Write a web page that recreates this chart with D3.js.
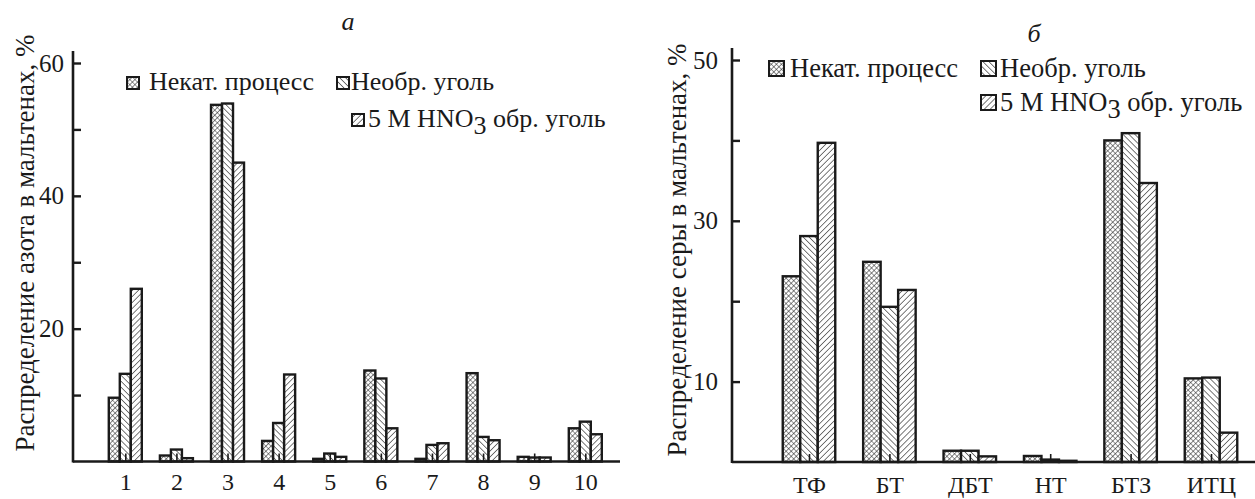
<!DOCTYPE html>
<html>
<head>
<meta charset="utf-8">
<script src="https://cdn.jsdelivr.net/npm/d3@7"></script>
<style>
  body { margin: 0; background: #fff; }
  svg, svg text { font-family: "Liberation Serif", "Times New Roman", Times, serif !important; }
</style>
</head>
<body>
<div class="chart"></div>
<script>
// panel a: nitrogen distribution in maltenes, %
const nitroCats = ['1', '2', '3', '4', '5', '6', '7', '8', '9', '10'];
const nitroUncat = [9.6, 0.9, 53.7, 3.1, 0.4, 13.7, 0.4, 13.3, 0.7, 5.0];
const nitroRaw = [13.2, 1.8, 53.9, 5.8, 1.2, 12.5, 2.5, 3.7, 0.6, 6.0];
const nitroHno3 = [26.0, 0.5, 45.0, 13.1, 0.7, 5.0, 2.75, 3.2, 0.6, 4.1];
const nitroTicks = [10, 20, 30, 40, 50, 60];
const nitroLabelled = [20, 40, 60];

// panel b: sulfur distribution in maltenes, %
const sulfCats = ['ТФ', 'БТ', 'ДБТ', 'НТ', 'БТЗ', 'ИТЦ'];
const sulfUncat = [23.1, 24.9, 1.4, 0.75, 40.0, 10.4];
const sulfRaw = [28.1, 19.3, 1.4, 0.3, 40.9, 10.5];
const sulfHno3 = [39.7, 21.4, 0.7, 0.15, 34.7, 3.65];
const sulfTicks = [10, 20, 30, 40, 50];
const sulfLabelled = [10, 30, 50];

const seriesKeys = ['uncat', 'raw', 'hno3'];
const seriesNames = ['Некат. процесс', 'Необр. уголь', '5 M HNO'];

const width = 1255;
const height = 499;
const serif = '"Liberation Serif", "Times New Roman", Times, serif';

const svg = d3.select('.chart')
  .append('svg')
  .attr('width', width)
  .attr('height', height)
  .attr('font-family', serif);

svg.append('rect').attr('width', width).attr('height', height).attr('fill', '#fff');

// hatch patterns
const defs = svg.append('defs');

const cross = defs.append('pattern')
  .attr('id', 'pat-uncat')
  .attr('patternUnits', 'userSpaceOnUse')
  .attr('width', 3.6).attr('height', 3.6)
  .attr('patternTransform', 'rotate(45)');
cross.append('rect').attr('width', 3.6).attr('height', 3.6).attr('fill', '#fff');
cross.append('path').attr('d', 'M0,0H3.6M0,0V3.6').attr('stroke', '#222').attr('stroke-width', 1.1);

const back = defs.append('pattern')
  .attr('id', 'pat-raw')
  .attr('patternUnits', 'userSpaceOnUse')
  .attr('width', 4.2).attr('height', 4.2)
  .attr('patternTransform', 'rotate(-45)');
back.append('rect').attr('width', 4.2).attr('height', 4.2).attr('fill', '#fff');
back.append('path').attr('d', 'M0,0V4.2').attr('stroke', '#222').attr('stroke-width', 1.2);

const fwd = defs.append('pattern')
  .attr('id', 'pat-hno3')
  .attr('patternUnits', 'userSpaceOnUse')
  .attr('width', 4.2).attr('height', 4.2)
  .attr('patternTransform', 'rotate(45)');
fwd.append('rect').attr('width', 4.2).attr('height', 4.2).attr('fill', '#fff');
fwd.append('path').attr('d', 'M0,0V4.2').attr('stroke', '#222').attr('stroke-width', 1.2);

const drawPanel = (opts) => {
  const g = svg.append('g');

  const x = d3.scalePoint()
    .domain(opts.cats)
    .range(opts.xRange);

  const sub = d3.scaleBand()
    .domain(seriesKeys)
    .range([-opts.groupWidth / 2, opts.groupWidth / 2]);

  const y = d3.scaleLinear()
    .domain([0, opts.yMax])
    .range(opts.yRange);

  const rows = opts.cats.map((c, i) => ({
    cat: c,
    uncat: opts.uncat[i],
    raw: opts.raw[i],
    hno3: opts.hno3[i]
  }));

  g.append('g')
    .selectAll('g')
    .data(rows)
    .join('g')
    .attr('transform', (d) => `translate(${x(d.cat)},0)`)
    .selectAll('rect')
    .data((d) => seriesKeys.map((k) => ({ key: k, value: d[k] })))
    .join('rect')
    .attr('x', (d) => sub(d.key))
    .attr('width', sub.bandwidth())
    .attr('y', (d) => y(d.value))
    .attr('height', (d) => y(0) - y(d.value))
    .attr('fill', (d) => `url(#pat-${d.key})`)
    .attr('stroke', '#1a1a1a')
    .attr('stroke-width', 2.4);

  // y axis, ticks pointing inside
  const yAxis = g.append('g')
    .attr('transform', `translate(${opts.axisX},0)`)
    .call(d3.axisLeft(y)
      .tickValues(opts.ticks)
      .tickSize(-8)
      .tickSizeOuter(0)
      .tickPadding(opts.tickPad)
      .tickFormat((d) => (opts.labelled.includes(d) ? d : '')))
    .attr('font-family', serif)
    .attr('font-size', 25);
  yAxis.select('.domain').remove();
  yAxis.selectAll('.tick line').attr('stroke', '#1a1a1a').attr('stroke-width', 2.4);
  yAxis.selectAll('.tick text').attr('fill', '#1a1a1a');
  g.append('line')
    .attr('x1', opts.axisX).attr('x2', opts.axisX)
    .attr('y1', y(0) + 1).attr('y2', y(opts.ticks[opts.ticks.length - 1]) - 12)
    .attr('stroke', '#1a1a1a').attr('stroke-width', 2.6);

  // x axis on top of bars
  const xAxis = g.append('g')
    .attr('transform', `translate(0,${y(0)})`)
    .call(d3.axisBottom(x).tickSize(-8).tickSizeOuter(0))
    .attr('font-family', serif)
    .attr('font-size', 24);
  xAxis.select('.domain').remove();
  xAxis.selectAll('.tick line').attr('stroke', '#1a1a1a').attr('stroke-width', 1.6);
  xAxis.selectAll('.tick text')
    .attr('dy', null)
    .attr('y', opts.xLabelOffset)
    .attr('fill', '#1a1a1a');
  g.append('line')
    .attr('x1', opts.axisX).attr('x2', opts.axisEnd)
    .attr('y1', y(0)).attr('y2', y(0))
    .attr('stroke', '#1a1a1a').attr('stroke-width', 2.6);

  // y axis title
  g.append('text')
    .attr('transform', `translate(${opts.titleX},${opts.titleY}) rotate(-90)`)
    .attr('text-anchor', 'middle')
    .attr('font-family', serif)
    .attr('font-size', 27)
    .attr('fill', '#1a1a1a')
    .text(opts.yTitle);

  // panel letter
  g.append('text')
    .attr('x', opts.letterX)
    .attr('y', opts.letterY)
    .attr('text-anchor', 'middle')
    .attr('font-family', serif)
    .attr('font-size', 26)
    .attr('font-style', 'italic')
    .attr('fill', '#1a1a1a')
    .text(opts.letter);

  // legend
  opts.legend.forEach((p, i) => {
    g.append('rect')
      .attr('x', p[0])
      .attr('y', p[1] - opts.box - 1)
      .attr('width', opts.box)
      .attr('height', opts.box)
      .attr('fill', `url(#pat-${seriesKeys[i]})`)
      .attr('stroke', '#1a1a1a')
      .attr('stroke-width', 2);
    const t = g.append('text')
      .attr('x', p[0] + opts.box + opts.gap[i])
      .attr('y', p[1])
      .attr('font-family', serif)
      .attr('font-size', opts.legendSize)
      .attr('fill', '#1a1a1a')
      .text(seriesNames[i]);
    if (seriesKeys[i] === 'hno3') {
      t.append('tspan').attr('dy', 7).text('3');
      t.append('tspan').attr('dy', -7).text(' обр. уголь');
    }
  });
};

drawPanel({
  cats: nitroCats,
  uncat: nitroUncat,
  raw: nitroRaw,
  hno3: nitroHno3,
  ticks: nitroTicks,
  labelled: nitroLabelled,
  yMax: 60,
  yRange: [461.5, 63],
  xRange: [125.3, 585.3],
  groupWidth: 33,
  axisX: 73,
  axisEnd: 620,
  tickPad: 9,
  xLabelOffset: 28,
  titleX: 34,
  titleY: 243,
  yTitle: 'Распределение азота в мальтенах, %',
  letter: 'а',
  letterX: 348,
  letterY: 30,
  box: 12,
  gap: [10, 2, 4],
  legendSize: 26,
  legend: [[127, 90], [337, 90], [352, 127]]
});

drawPanel({
  cats: sulfCats,
  uncat: sulfUncat,
  raw: sulfRaw,
  hno3: sulfHno3,
  ticks: sulfTicks,
  labelled: sulfLabelled,
  yMax: 50,
  yRange: [462, 60],
  xRange: [809, 1211],
  groupWidth: 52.5,
  axisX: 732,
  axisEnd: 1255,
  tickPad: 14,
  xLabelOffset: 31,
  titleX: 686,
  titleY: 250,
  yTitle: 'Распределение серы в мальтенах, %',
  letter: 'б',
  letterX: 1034,
  letterY: 42,
  box: 15,
  gap: [6, 4, 4],
  legendSize: 26.5,
  legend: [[769, 77], [981, 77], [981, 111]]
});
</script>
</body>
</html>
